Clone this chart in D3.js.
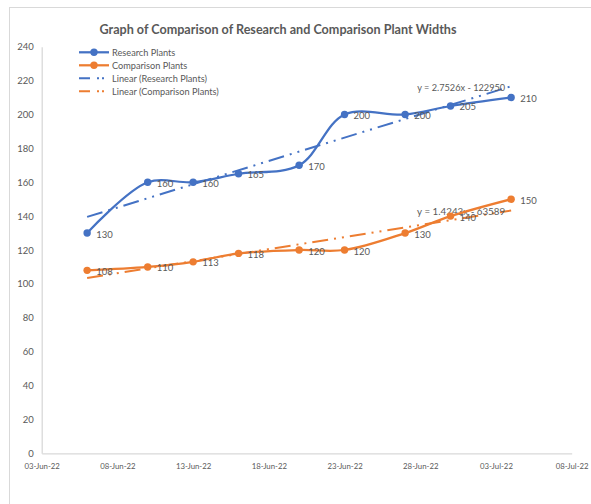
<!DOCTYPE html>
<html>
<head>
<meta charset="utf-8">
<script src="https://cdn.jsdelivr.net/npm/d3@7"></script>
<style>
  body { margin: 0; background: #fff; }
  text { font-family: Lato, "Open Sans", sans-serif; fill: #595959; }
</style>
</head>
<body>
<svg id="chart" width="591" height="504"></svg>
<script>
// data
const dates = ["2022-06-06", "2022-06-10", "2022-06-13", "2022-06-16", "2022-06-20",
  "2022-06-23", "2022-06-27", "2022-06-30", "2022-07-04"];
const researchPlants = [130, 160, 160, 165, 170, 200, 200, 205, 210];
const comparisonPlants = [108, 110, 113, 118, 120, 120, 130, 140, 150];
const xTickDates = ["2022-06-03", "2022-06-08", "2022-06-13", "2022-06-18",
  "2022-06-23", "2022-06-28", "2022-07-03", "2022-07-08"];
const yTicks = [0, 20, 40, 60, 80, 100, 120, 140, 160, 180, 200, 220, 240];
const seriesNames = ["Research Plants", "Comparison Plants"];
const trendNames = ["Linear (Research Plants)", "Linear (Comparison Plants)"];
const trendEquations = ["y = 2.7526x - 122950", "y = 1.4243x - 63589"];
const colors = ["#4472C4", "#ED7D31"];

const parse = d3.timeParse("%Y-%m-%d");
const svg = d3.select("#chart");

const plotLeft = 41.7, plotRight = 571.7, plotTop = 46.7, plotBottom = 453.3;

const x = d3.scaleTime()
  .domain([parse(xTickDates[0]), parse(xTickDates[xTickDates.length - 1])])
  .range([plotLeft, plotRight]);
const y = d3.scaleLinear().domain([0, 240]).range([plotBottom, plotTop]);

// chart frame
svg.append("rect")
  .attr("x", 9.5).attr("y", 7.5)
  .attr("width", 620).attr("height", 560)
  .attr("fill", "none").attr("stroke", "#d9d9d9");

// title
svg.append("text")
  .attr("x", 278).attr("y", 28.5)
  .attr("text-anchor", "middle")
  .attr("dominant-baseline", "central")
  .attr("font-size", 13.5)
  .attr("font-weight", 700)
  .attr("textLength", 357)
  .attr("lengthAdjust", "spacingAndGlyphs")
  .text("Graph of Comparison of Research and Comparison Plant Widths");

// axes
const xAxis = svg.append("g")
  .attr("transform", "translate(0," + plotBottom + ")")
  .call(d3.axisBottom(x)
    .tickValues(xTickDates.map(parse))
    .tickFormat(d3.timeFormat("%d-%b-%y"))
    .tickSize(0)
    .tickPadding(10));
xAxis.select(".domain").attr("stroke", "#d9d9d9").attr("stroke-width", 1.3);
xAxis.selectAll("text")
  .attr("font-size", 7.8)
  .attr("font-family", "Lato, sans-serif")
  .attr("fill", "#595959");

const yAxis = svg.append("g")
  .attr("transform", "translate(" + plotLeft + ",0)")
  .call(d3.axisLeft(y).tickValues(yTicks).tickSize(0).tickPadding(8));
yAxis.select(".domain").attr("stroke", "#d9d9d9").attr("stroke-width", 1.3);
yAxis.selectAll("text")
  .attr("font-size", 9.5)
  .attr("font-family", "Lato, sans-serif")
  .attr("fill", "#595959");

// series
const allSeries = [researchPlants, comparisonPlants];
const dashes = "16,6,2,6,2,6";

const line = d3.line()
  .x(d => x(d.date))
  .y(d => y(d.value))
  .curve(d3.curveCatmullRom.alpha(0.5));

allSeries.forEach((vals, i) => {
  const pts = vals.map((v, j) => ({ date: parse(dates[j]), value: v }));

  // linear trendline (least squares over days)
  const xs = pts.map(p => p.date.getTime() / 864e5);
  const mx = d3.mean(xs), my = d3.mean(vals);
  const slope = d3.sum(xs, (xv, k) => (xv - mx) * (vals[k] - my)) /
    d3.sum(xs, xv => (xv - mx) * (xv - mx));
  const fit = xv => my + slope * (xv - mx);
  const ends = [0, pts.length - 1].map(k => ({ date: pts[k].date, value: fit(xs[k]) }));

  svg.append("path")
    .datum(ends)
    .attr("fill", "none")
    .attr("stroke", colors[i])
    .attr("stroke-width", 2)
    .attr("stroke-dasharray", dashes)
    .attr("d", d3.line().x(d => x(d.date)).y(d => y(d.value)));

  svg.append("text")
    .attr("x", x(ends[1].date) - 6)
    .attr("y", y(ends[1].value) + 1)
    .attr("text-anchor", "end")
    .attr("dominant-baseline", "central")
    .attr("font-size", 9.5)
    .attr("textLength", 88)
    .attr("lengthAdjust", "spacingAndGlyphs")
    .text(trendEquations[i]);

  svg.append("path")
    .datum(pts)
    .attr("fill", "none")
    .attr("stroke", colors[i])
    .attr("stroke-width", 2.25)
    .attr("d", line);

  svg.selectAll(null)
    .data(pts)
    .enter()
    .append("circle")
    .attr("cx", d => x(d.date))
    .attr("cy", d => y(d.value))
    .attr("r", 3.7)
    .attr("fill", colors[i]);

  svg.selectAll(null)
    .data(pts)
    .enter()
    .append("text")
    .attr("x", d => x(d.date) + 9)
    .attr("y", d => y(d.value) + 1)
    .attr("dominant-baseline", "central")
    .attr("font-size", 9.5)
    .text(d => d.value);
});

// legend
const legendItems = [
  { name: seriesNames[0], color: colors[0], trend: false },
  { name: seriesNames[1], color: colors[1], trend: false },
  { name: trendNames[0], color: colors[0], trend: true },
  { name: trendNames[1], color: colors[1], trend: true }
];
const legend = svg.append("g").attr("transform", "translate(79,52.3)");
legendItems.forEach((it, i) => {
  const g = legend.append("g").attr("transform", "translate(0," + i * 13 + ")");
  g.append("line")
    .attr("x1", 0).attr("x2", 30)
    .attr("stroke", it.color)
    .attr("stroke-width", it.trend ? 2 : 2.25)
    .attr("stroke-dasharray", it.trend ? "11,7,2,3,2,20" : null);
  if (!it.trend) {
    g.append("circle").attr("cx", 15).attr("r", 3.7).attr("fill", it.color);
  }
  g.append("text")
    .attr("x", 33)
    .attr("dominant-baseline", "central")
    .attr("font-size", 9.2)
    .text(it.name);
});
</script>
</body>
</html>
